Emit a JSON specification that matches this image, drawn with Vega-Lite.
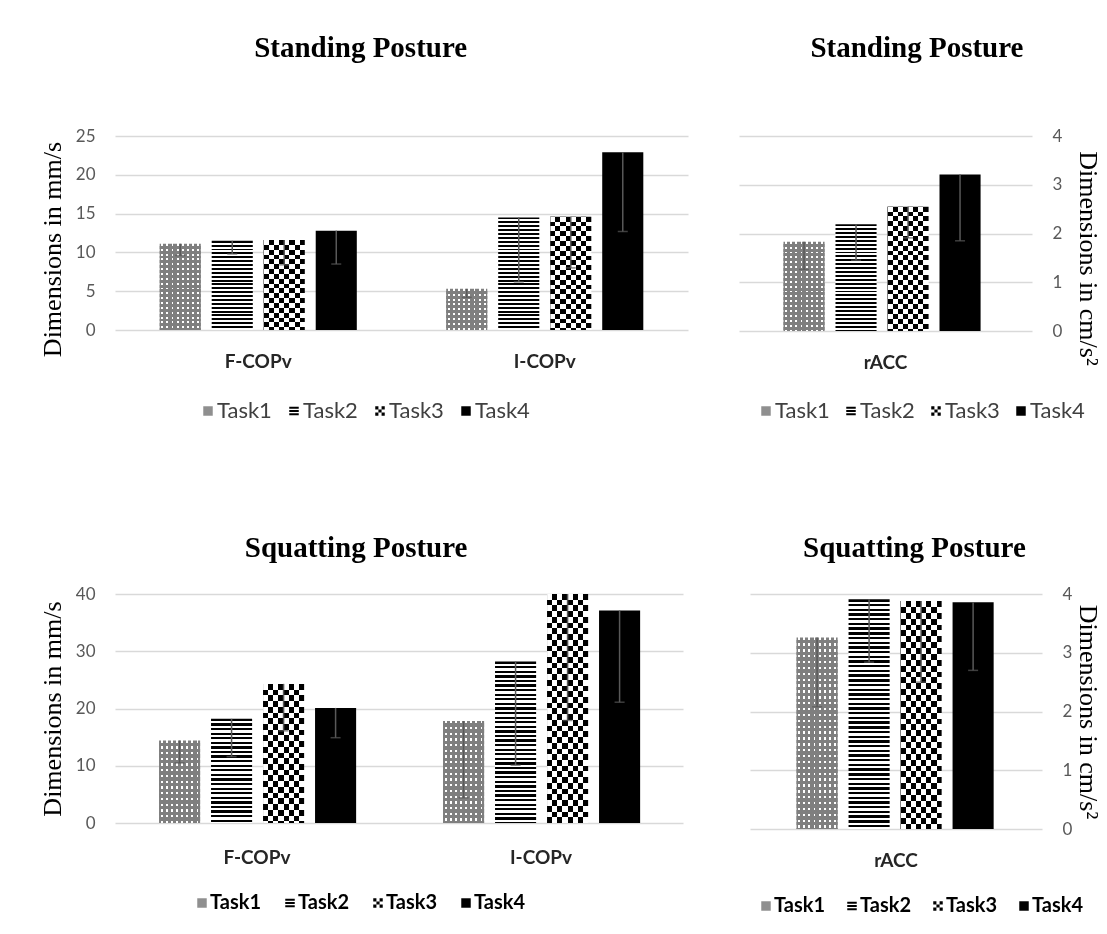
{
  "$schema": "https://vega.github.io/schema/vega-lite/v6.json",
  "background": "white",
  "padding": {"left": 39, "top": 34, "right": 8, "bottom": 0},
  "params": [
    {"name": "hs", "expr": "[{offset:0,color:'#000'},{offset:.01,color:'#000'},{offset:.01,color:'#fff'},{offset:.02,color:'#fff'},{offset:.02,color:'#000'},{offset:.03,color:'#000'},{offset:.03,color:'#fff'},{offset:.04,color:'#fff'},{offset:.04,color:'#000'},{offset:.05,color:'#000'},{offset:.05,color:'#fff'},{offset:.06,color:'#fff'},{offset:.06,color:'#000'},{offset:.07,color:'#000'},{offset:.07,color:'#fff'},{offset:.08,color:'#fff'},{offset:.08,color:'#000'},{offset:.09,color:'#000'},{offset:.09,color:'#fff'},{offset:.10,color:'#fff'},{offset:.10,color:'#000'},{offset:.11,color:'#000'},{offset:.11,color:'#fff'},{offset:.12,color:'#fff'},{offset:.12,color:'#000'},{offset:.13,color:'#000'},{offset:.13,color:'#fff'},{offset:.14,color:'#fff'},{offset:.14,color:'#000'},{offset:.15,color:'#000'},{offset:.15,color:'#fff'},{offset:.16,color:'#fff'},{offset:.16,color:'#000'},{offset:.17,color:'#000'},{offset:.17,color:'#fff'},{offset:.18,color:'#fff'},{offset:.18,color:'#000'},{offset:.19,color:'#000'},{offset:.19,color:'#fff'},{offset:.20,color:'#fff'},{offset:.20,color:'#000'},{offset:.21,color:'#000'},{offset:.21,color:'#fff'},{offset:.22,color:'#fff'},{offset:.22,color:'#000'},{offset:.23,color:'#000'},{offset:.23,color:'#fff'},{offset:.24,color:'#fff'},{offset:.24,color:'#000'},{offset:.25,color:'#000'},{offset:.25,color:'#fff'},{offset:.26,color:'#fff'},{offset:.26,color:'#000'},{offset:.27,color:'#000'},{offset:.27,color:'#fff'},{offset:.28,color:'#fff'},{offset:.28,color:'#000'},{offset:.29,color:'#000'},{offset:.29,color:'#fff'},{offset:.30,color:'#fff'},{offset:.30,color:'#000'},{offset:.31,color:'#000'},{offset:.31,color:'#fff'},{offset:.32,color:'#fff'},{offset:.32,color:'#000'},{offset:.33,color:'#000'},{offset:.33,color:'#fff'},{offset:.34,color:'#fff'},{offset:.34,color:'#000'},{offset:.35,color:'#000'},{offset:.35,color:'#fff'},{offset:.36,color:'#fff'},{offset:.36,color:'#000'},{offset:.37,color:'#000'},{offset:.37,color:'#fff'},{offset:.38,color:'#fff'},{offset:.38,color:'#000'},{offset:.39,color:'#000'},{offset:.39,color:'#fff'},{offset:.40,color:'#fff'},{offset:.40,color:'#000'},{offset:.41,color:'#000'},{offset:.41,color:'#fff'},{offset:.42,color:'#fff'},{offset:.42,color:'#000'},{offset:.43,color:'#000'},{offset:.43,color:'#fff'},{offset:.44,color:'#fff'},{offset:.44,color:'#000'},{offset:.45,color:'#000'},{offset:.45,color:'#fff'},{offset:.46,color:'#fff'},{offset:.46,color:'#000'},{offset:.47,color:'#000'},{offset:.47,color:'#fff'},{offset:.48,color:'#fff'},{offset:.48,color:'#000'},{offset:.49,color:'#000'},{offset:.49,color:'#fff'},{offset:.50,color:'#fff'},{offset:.50,color:'#000'},{offset:.51,color:'#000'},{offset:.51,color:'#fff'},{offset:.52,color:'#fff'},{offset:.52,color:'#000'},{offset:.53,color:'#000'},{offset:.53,color:'#fff'},{offset:.54,color:'#fff'},{offset:.54,color:'#000'},{offset:.55,color:'#000'},{offset:.55,color:'#fff'},{offset:.56,color:'#fff'},{offset:.56,color:'#000'},{offset:.57,color:'#000'},{offset:.57,color:'#fff'},{offset:.58,color:'#fff'},{offset:.58,color:'#000'},{offset:.59,color:'#000'},{offset:.59,color:'#fff'},{offset:.60,color:'#fff'},{offset:.60,color:'#000'},{offset:.61,color:'#000'},{offset:.61,color:'#fff'},{offset:.62,color:'#fff'},{offset:.62,color:'#000'},{offset:.63,color:'#000'},{offset:.63,color:'#fff'},{offset:.64,color:'#fff'},{offset:.64,color:'#000'},{offset:.65,color:'#000'},{offset:.65,color:'#fff'},{offset:.66,color:'#fff'},{offset:.66,color:'#000'},{offset:.67,color:'#000'},{offset:.67,color:'#fff'},{offset:.68,color:'#fff'},{offset:.68,color:'#000'},{offset:.69,color:'#000'},{offset:.69,color:'#fff'},{offset:.70,color:'#fff'},{offset:.70,color:'#000'},{offset:.71,color:'#000'},{offset:.71,color:'#fff'},{offset:.72,color:'#fff'},{offset:.72,color:'#000'},{offset:.73,color:'#000'},{offset:.73,color:'#fff'},{offset:.74,color:'#fff'},{offset:.74,color:'#000'},{offset:.75,color:'#000'},{offset:.75,color:'#fff'},{offset:.76,color:'#fff'},{offset:.76,color:'#000'},{offset:.77,color:'#000'},{offset:.77,color:'#fff'},{offset:.78,color:'#fff'},{offset:.78,color:'#000'},{offset:.79,color:'#000'},{offset:.79,color:'#fff'},{offset:.80,color:'#fff'},{offset:.80,color:'#000'},{offset:.81,color:'#000'},{offset:.81,color:'#fff'},{offset:.82,color:'#fff'},{offset:.82,color:'#000'},{offset:.83,color:'#000'},{offset:.83,color:'#fff'},{offset:.84,color:'#fff'},{offset:.84,color:'#000'},{offset:.85,color:'#000'},{offset:.85,color:'#fff'},{offset:.86,color:'#fff'},{offset:.86,color:'#000'},{offset:.87,color:'#000'},{offset:.87,color:'#fff'},{offset:.88,color:'#fff'},{offset:.88,color:'#000'},{offset:.89,color:'#000'},{offset:.89,color:'#fff'},{offset:.90,color:'#fff'},{offset:.90,color:'#000'},{offset:.91,color:'#000'},{offset:.91,color:'#fff'},{offset:.92,color:'#fff'},{offset:.92,color:'#000'},{offset:.93,color:'#000'},{offset:.93,color:'#fff'},{offset:.94,color:'#fff'},{offset:.94,color:'#000'},{offset:.95,color:'#000'},{offset:.95,color:'#fff'},{offset:.96,color:'#fff'},{offset:.96,color:'#000'},{offset:.97,color:'#000'},{offset:.97,color:'#fff'},{offset:.98,color:'#fff'},{offset:.98,color:'#000'},{offset:.99,color:'#000'},{offset:.99,color:'#fff'},{offset:1,color:'#fff'}]"},
    {"name": "cs", "expr": "[{offset:0,color:'#000'},{offset:.025,color:'#000'},{offset:.025,color:'#fff'},{offset:.05,color:'#fff'},{offset:.05,color:'#000'},{offset:.075,color:'#000'},{offset:.075,color:'#fff'},{offset:.1,color:'#fff'},{offset:.1,color:'#000'},{offset:.125,color:'#000'},{offset:.125,color:'#fff'},{offset:.15,color:'#fff'},{offset:.15,color:'#000'},{offset:.175,color:'#000'},{offset:.175,color:'#fff'},{offset:.2,color:'#fff'},{offset:.2,color:'#000'},{offset:.225,color:'#000'},{offset:.225,color:'#fff'},{offset:.25,color:'#fff'},{offset:.25,color:'#000'},{offset:.275,color:'#000'},{offset:.275,color:'#fff'},{offset:.3,color:'#fff'},{offset:.3,color:'#000'},{offset:.325,color:'#000'},{offset:.325,color:'#fff'},{offset:.35,color:'#fff'},{offset:.35,color:'#000'},{offset:.375,color:'#000'},{offset:.375,color:'#fff'},{offset:.4,color:'#fff'},{offset:.4,color:'#000'},{offset:.425,color:'#000'},{offset:.425,color:'#fff'},{offset:.45,color:'#fff'},{offset:.45,color:'#000'},{offset:.475,color:'#000'},{offset:.475,color:'#fff'},{offset:.5,color:'#fff'},{offset:.5,color:'#000'},{offset:.525,color:'#000'},{offset:.525,color:'#fff'},{offset:.55,color:'#fff'},{offset:.55,color:'#000'},{offset:.575,color:'#000'},{offset:.575,color:'#fff'},{offset:.6,color:'#fff'},{offset:.6,color:'#000'},{offset:.625,color:'#000'},{offset:.625,color:'#fff'},{offset:.65,color:'#fff'},{offset:.65,color:'#000'},{offset:.675,color:'#000'},{offset:.675,color:'#fff'},{offset:.7,color:'#fff'},{offset:.7,color:'#000'},{offset:.725,color:'#000'},{offset:.725,color:'#fff'},{offset:.75,color:'#fff'},{offset:.75,color:'#000'},{offset:.775,color:'#000'},{offset:.775,color:'#fff'},{offset:.8,color:'#fff'},{offset:.8,color:'#000'},{offset:.825,color:'#000'},{offset:.825,color:'#fff'},{offset:.85,color:'#fff'},{offset:.85,color:'#000'},{offset:.875,color:'#000'},{offset:.875,color:'#fff'},{offset:.9,color:'#fff'},{offset:.9,color:'#000'},{offset:.925,color:'#000'},{offset:.925,color:'#fff'},{offset:.95,color:'#fff'},{offset:.95,color:'#000'},{offset:.975,color:'#000'},{offset:.975,color:'#fff'},{offset:1,color:'#fff'}]"},
    {"name": "ds", "expr": "[{offset:0,color:'#fff'},{offset:.01,color:'#fff'},{offset:.01,color:'#7f7f7f'},{offset:.025,color:'#7f7f7f'},{offset:.025,color:'#fff'},{offset:.035,color:'#fff'},{offset:.035,color:'#7f7f7f'},{offset:.05,color:'#7f7f7f'},{offset:.05,color:'#fff'},{offset:.06,color:'#fff'},{offset:.06,color:'#7f7f7f'},{offset:.075,color:'#7f7f7f'},{offset:.075,color:'#fff'},{offset:.085,color:'#fff'},{offset:.085,color:'#7f7f7f'},{offset:.1,color:'#7f7f7f'},{offset:.1,color:'#fff'},{offset:.11,color:'#fff'},{offset:.11,color:'#7f7f7f'},{offset:.125,color:'#7f7f7f'},{offset:.125,color:'#fff'},{offset:.135,color:'#fff'},{offset:.135,color:'#7f7f7f'},{offset:.15,color:'#7f7f7f'},{offset:.15,color:'#fff'},{offset:.16,color:'#fff'},{offset:.16,color:'#7f7f7f'},{offset:.175,color:'#7f7f7f'},{offset:.175,color:'#fff'},{offset:.185,color:'#fff'},{offset:.185,color:'#7f7f7f'},{offset:.2,color:'#7f7f7f'},{offset:.2,color:'#fff'},{offset:.21,color:'#fff'},{offset:.21,color:'#7f7f7f'},{offset:.225,color:'#7f7f7f'},{offset:.225,color:'#fff'},{offset:.235,color:'#fff'},{offset:.235,color:'#7f7f7f'},{offset:.25,color:'#7f7f7f'},{offset:.25,color:'#fff'},{offset:.26,color:'#fff'},{offset:.26,color:'#7f7f7f'},{offset:.275,color:'#7f7f7f'},{offset:.275,color:'#fff'},{offset:.285,color:'#fff'},{offset:.285,color:'#7f7f7f'},{offset:.3,color:'#7f7f7f'},{offset:.3,color:'#fff'},{offset:.31,color:'#fff'},{offset:.31,color:'#7f7f7f'},{offset:.325,color:'#7f7f7f'},{offset:.325,color:'#fff'},{offset:.335,color:'#fff'},{offset:.335,color:'#7f7f7f'},{offset:.35,color:'#7f7f7f'},{offset:.35,color:'#fff'},{offset:.36,color:'#fff'},{offset:.36,color:'#7f7f7f'},{offset:.375,color:'#7f7f7f'},{offset:.375,color:'#fff'},{offset:.385,color:'#fff'},{offset:.385,color:'#7f7f7f'},{offset:.4,color:'#7f7f7f'},{offset:.4,color:'#fff'},{offset:.41,color:'#fff'},{offset:.41,color:'#7f7f7f'},{offset:.425,color:'#7f7f7f'},{offset:.425,color:'#fff'},{offset:.435,color:'#fff'},{offset:.435,color:'#7f7f7f'},{offset:.45,color:'#7f7f7f'},{offset:.45,color:'#fff'},{offset:.46,color:'#fff'},{offset:.46,color:'#7f7f7f'},{offset:.475,color:'#7f7f7f'},{offset:.475,color:'#fff'},{offset:.485,color:'#fff'},{offset:.485,color:'#7f7f7f'},{offset:.5,color:'#7f7f7f'},{offset:.5,color:'#fff'},{offset:.51,color:'#fff'},{offset:.51,color:'#7f7f7f'},{offset:.525,color:'#7f7f7f'},{offset:.525,color:'#fff'},{offset:.535,color:'#fff'},{offset:.535,color:'#7f7f7f'},{offset:.55,color:'#7f7f7f'},{offset:.55,color:'#fff'},{offset:.56,color:'#fff'},{offset:.56,color:'#7f7f7f'},{offset:.575,color:'#7f7f7f'},{offset:.575,color:'#fff'},{offset:.585,color:'#fff'},{offset:.585,color:'#7f7f7f'},{offset:.6,color:'#7f7f7f'},{offset:.6,color:'#fff'},{offset:.61,color:'#fff'},{offset:.61,color:'#7f7f7f'},{offset:.625,color:'#7f7f7f'},{offset:.625,color:'#fff'},{offset:.635,color:'#fff'},{offset:.635,color:'#7f7f7f'},{offset:.65,color:'#7f7f7f'},{offset:.65,color:'#fff'},{offset:.66,color:'#fff'},{offset:.66,color:'#7f7f7f'},{offset:.675,color:'#7f7f7f'},{offset:.675,color:'#fff'},{offset:.685,color:'#fff'},{offset:.685,color:'#7f7f7f'},{offset:.7,color:'#7f7f7f'},{offset:.7,color:'#fff'},{offset:.71,color:'#fff'},{offset:.71,color:'#7f7f7f'},{offset:.725,color:'#7f7f7f'},{offset:.725,color:'#fff'},{offset:.735,color:'#fff'},{offset:.735,color:'#7f7f7f'},{offset:.75,color:'#7f7f7f'},{offset:.75,color:'#fff'},{offset:.76,color:'#fff'},{offset:.76,color:'#7f7f7f'},{offset:.775,color:'#7f7f7f'},{offset:.775,color:'#fff'},{offset:.785,color:'#fff'},{offset:.785,color:'#7f7f7f'},{offset:.8,color:'#7f7f7f'},{offset:.8,color:'#fff'},{offset:.81,color:'#fff'},{offset:.81,color:'#7f7f7f'},{offset:.825,color:'#7f7f7f'},{offset:.825,color:'#fff'},{offset:.835,color:'#fff'},{offset:.835,color:'#7f7f7f'},{offset:.85,color:'#7f7f7f'},{offset:.85,color:'#fff'},{offset:.86,color:'#fff'},{offset:.86,color:'#7f7f7f'},{offset:.875,color:'#7f7f7f'},{offset:.875,color:'#fff'},{offset:.885,color:'#fff'},{offset:.885,color:'#7f7f7f'},{offset:.9,color:'#7f7f7f'},{offset:.9,color:'#fff'},{offset:.91,color:'#fff'},{offset:.91,color:'#7f7f7f'},{offset:.925,color:'#7f7f7f'},{offset:.925,color:'#fff'},{offset:.935,color:'#fff'},{offset:.935,color:'#7f7f7f'},{offset:.95,color:'#7f7f7f'},{offset:.95,color:'#fff'},{offset:.96,color:'#fff'},{offset:.96,color:'#7f7f7f'},{offset:.975,color:'#7f7f7f'},{offset:.975,color:'#fff'},{offset:.985,color:'#fff'},{offset:.985,color:'#7f7f7f'},{offset:1,color:'#7f7f7f'}]"},
    {"name": "vgrad", "expr": "{gradient:'linear',x1:0,y1:0,x2:1,y2:0,stops:[{offset:0,color:'#fff'},{offset:.125,color:'#fff'},{offset:.125,color:'#000'},{offset:.25,color:'#000'},{offset:.25,color:'#fff'},{offset:.375,color:'#fff'},{offset:.375,color:'#000'},{offset:.5,color:'#000'},{offset:.5,color:'#fff'},{offset:.625,color:'#fff'},{offset:.625,color:'#000'},{offset:.75,color:'#000'},{offset:.75,color:'#fff'},{offset:.875,color:'#fff'},{offset:.875,color:'#000'},{offset:1,color:'#000'}]}"},
    {"name": "tgrad", "expr": "{gradient:'linear',x1:0,y1:0,x2:1,y2:0,stops:[{offset:0,color:'#7f7f7f'},{offset:.04,color:'#7f7f7f'},{offset:.04,color:'#fff'},{offset:.085,color:'#fff'},{offset:.085,color:'#7f7f7f'},{offset:.165,color:'#7f7f7f'},{offset:.165,color:'#fff'},{offset:.21,color:'#fff'},{offset:.21,color:'#7f7f7f'},{offset:.29,color:'#7f7f7f'},{offset:.29,color:'#fff'},{offset:.335,color:'#fff'},{offset:.335,color:'#7f7f7f'},{offset:.415,color:'#7f7f7f'},{offset:.415,color:'#fff'},{offset:.46,color:'#fff'},{offset:.46,color:'#7f7f7f'},{offset:.54,color:'#7f7f7f'},{offset:.54,color:'#fff'},{offset:.585,color:'#fff'},{offset:.585,color:'#7f7f7f'},{offset:.665,color:'#7f7f7f'},{offset:.665,color:'#fff'},{offset:.71,color:'#fff'},{offset:.71,color:'#7f7f7f'},{offset:.79,color:'#7f7f7f'},{offset:.79,color:'#fff'},{offset:.835,color:'#fff'},{offset:.835,color:'#7f7f7f'},{offset:.915,color:'#7f7f7f'},{offset:.915,color:'#fff'},{offset:.96,color:'#fff'},{offset:.96,color:'#7f7f7f'},{offset:1,color:'#7f7f7f'}]}"},
    {"name": "legshape", "value": "M-1,-0.9h2v0.4h-2zM-1,-0.2h2v0.4h-2zM-1,0.5h2v0.4h-2z"},
    {"name": "legcheck", "value": "M-1,-1h0.667v0.667h-0.667zM0.333,-1h0.667v0.667h-0.667zM-0.333,-0.333h0.667v0.667h-0.667zM-1,0.333h0.667v0.667h-0.667zM0.333,0.333h0.667v0.667h-0.667z"}
  ],
  "datasets": {
    "d": [
      {"panel": "SL", "cat": "F-COPv", "task": "Task1", "value": 11.1, "low": 9.6},
      {"panel": "SL", "cat": "F-COPv", "task": "Task2", "value": 11.5, "low": 9.8},
      {"panel": "SL", "cat": "F-COPv", "task": "Task3", "value": 11.6, "low": 8.4},
      {"panel": "SL", "cat": "F-COPv", "task": "Task4", "value": 12.8, "low": 8.5},
      {"panel": "SL", "cat": "I-COPv", "task": "Task1", "value": 5.3, "low": 4.2},
      {"panel": "SL", "cat": "I-COPv", "task": "Task2", "value": 14.5, "low": 6.2},
      {"panel": "SL", "cat": "I-COPv", "task": "Task3", "value": 14.6, "low": 8.0},
      {"panel": "SL", "cat": "I-COPv", "task": "Task4", "value": 22.9, "low": 12.7},
      {"panel": "SR", "cat": "rACC", "task": "Task1", "value": 1.83, "low": 1.26},
      {"panel": "SR", "cat": "rACC", "task": "Task2", "value": 2.19, "low": 1.45},
      {"panel": "SR", "cat": "rACC", "task": "Task3", "value": 2.55, "low": 1.91},
      {"panel": "SR", "cat": "rACC", "task": "Task4", "value": 3.21, "low": 1.85},
      {"panel": "QL", "cat": "F-COPv", "task": "Task1", "value": 14.4, "low": 10.5},
      {"panel": "QL", "cat": "F-COPv", "task": "Task2", "value": 18.2, "low": 11.6},
      {"panel": "QL", "cat": "F-COPv", "task": "Task3", "value": 24.3, "low": 16.1},
      {"panel": "QL", "cat": "F-COPv", "task": "Task4", "value": 20.1, "low": 14.9},
      {"panel": "QL", "cat": "I-COPv", "task": "Task1", "value": 17.8, "low": 4.4},
      {"panel": "QL", "cat": "I-COPv", "task": "Task2", "value": 28.2, "low": 10.1},
      {"panel": "QL", "cat": "I-COPv", "task": "Task3", "value": 40.0, "low": 17.9},
      {"panel": "QL", "cat": "I-COPv", "task": "Task4", "value": 37.1, "low": 21.1},
      {"panel": "QR", "cat": "rACC", "task": "Task1", "value": 3.26, "low": 2.08},
      {"panel": "QR", "cat": "rACC", "task": "Task2", "value": 3.91, "low": 2.84},
      {"panel": "QR", "cat": "rACC", "task": "Task3", "value": 3.88, "low": 2.5},
      {"panel": "QR", "cat": "rACC", "task": "Task4", "value": 3.86, "low": 2.7}
    ]
  },
  "data": {"name": "d"},
  "config": {
    "view": {"stroke": null},
    "title": {"font": "Liberation Serif", "fontSize": 29, "fontWeight": "bold", "color": "#000", "frame": "bounds", "anchor": "middle"},
    "axis": {"domain": false, "ticks": false, "labelFont": "Lato", "labelColor": "#595959"},
    "axisX": {"grid": false, "labelAngle": 0, "labelFontSize": 19, "labelFontWeight": "bold", "labelColor": "#262626", "labelPadding": 22, "title": null},
    "axisY": {"grid": true, "gridColor": "#d9d9d9", "gridWidth": 1.5, "labelFontSize": 17, "labelPadding": 20, "titleFont": "Liberation Serif", "titleFontSize": 26, "titleFontWeight": "normal", "titleColor": "#000", "titlePadding": 10},
    "legend": {"orient": "none", "direction": "horizontal", "symbolType": "square", "symbolSize": 90, "symbolStrokeWidth": 0, "labelFont": "Lato", "labelFontSize": 20, "columnPadding": 18, "labelOffset": -2, "padding": 0}
  },
  "resolve": {"scale": {"fill": "independent"}, "legend": {"fill": "independent"}},
  "spacing": 112,
  "vconcat": [
    {
      "spacing": 51,
      "resolve": {"scale": {"fill": "independent"}, "legend": {"fill": "independent"}},
      "hconcat": [
        {
          "width": 573, "height": 194,
          "title": {"text": "Standing Posture", "offset": 64, "dx": -3},
          "transform": [{"filter": "datum.panel === 'SL'"}],
          "encoding": {
            "x": {"field": "cat", "type": "nominal", "scale": {"paddingInner": 0.312, "paddingOuter": 0.156}},
            "xOffset": {"field": "task", "type": "nominal", "scale": {"paddingInner": 0.21, "paddingOuter": 0}},
            "y": {"field": "value", "type": "quantitative", "stack": null, "scale": {"domain": [0, 25], "nice": false}, "axis": {"values": [0, 5, 10, 15, 20, 25], "title": "Dimensions in mm/s", "titleY": 113}}
          },
          "layer": [
            {"mark": {"type": "bar"}, "encoding": {"fill": {"field": "task", "type": "nominal", "scale": {"domain": ["Task1", "Task2", "Task3", "Task4"], "range": ["#8f8f8f", "#000000", "#000000", "#000000"]},
              "legend": {"title": null, "orient": "none", "legendX": 82, "legendY": 264, "labelColor": "#404040", "labelFontWeight": "normal", "labelFontSize": 22, "columnPadding": 11, "encode": {"symbols": {"update": {"shape": {"signal": "datum.value === 'Task2' ? legshape : datum.value === 'Task3' ? legcheck : 'square'"}}}}},
              "condition": [
                {"test": "datum.task === 'Task1'", "value": {"expr": "tgrad"}},
                {"test": "datum.task === 'Task2'", "value": {"expr": "{gradient:'linear',x1:0,y1:0,x2:0,y2:25/datum.value,stops:hs}"}},
                {"test": "datum.task === 'Task3'", "value": {"expr": "{gradient:'linear',x1:0,y1:0,x2:0,y2:25/datum.value,stops:cs}"}}
              ]}}},
            {"transform": [{"filter": "datum.task === 'Task3'"}], "mark": {"type": "bar", "blend": "difference"}, "encoding": {"fill": {"value": {"expr": "vgrad"}}}},
            {"transform": [{"filter": "datum.task === 'Task1'"}], "mark": {"type": "bar", "blend": "darken"}, "encoding": {"fill": {"value": {"expr": "{gradient:'linear',x1:0,y1:0,x2:0,y2:25/datum.value,stops:ds}"}}}},
            {"mark": {"type": "rule", "color": "#595959", "strokeWidth": 1.5}, "encoding": {"y2": {"field": "low"}}},
            {"mark": {"type": "tick", "color": "#595959", "thickness": 1.5, "size": 10, "orient": "horizontal"}, "encoding": {"y": {"field": "low", "type": "quantitative"}}}
          ]
        },
        {
          "width": 293, "height": 195,
          "title": {"text": "Standing Posture", "offset": 64, "dx": -3},
          "transform": [{"filter": "datum.panel === 'SR'"}],
          "encoding": {
            "x": {"field": "cat", "type": "nominal", "scale": {"paddingInner": 0, "paddingOuter": 0.218}},
            "xOffset": {"field": "task", "type": "nominal", "scale": {"paddingInner": 0.18, "paddingOuter": 0}},
            "y": {"field": "value", "type": "quantitative", "stack": null, "scale": {"domain": [0, 4], "nice": false}, "axis": {"orient": "right", "values": [0, 1, 2, 3, 4], "title": "Dimensions in cm/s²", "titlePadding": 13, "titleY": 122}}
          },
          "layer": [
            {"mark": {"type": "bar"}, "encoding": {"fill": {"field": "task", "type": "nominal", "scale": {"domain": ["Task1", "Task2", "Task3", "Task4"], "range": ["#8f8f8f", "#000000", "#000000", "#000000"]},
              "legend": {"title": null, "orient": "none", "legendX": 16, "legendY": 264, "labelColor": "#404040", "labelFontWeight": "normal", "labelFontSize": 22, "columnPadding": 10, "encode": {"symbols": {"update": {"shape": {"signal": "datum.value === 'Task2' ? legshape : datum.value === 'Task3' ? legcheck : 'square'"}}}}},
              "condition": [
                {"test": "datum.task === 'Task1'", "value": {"expr": "tgrad"}},
                {"test": "datum.task === 'Task2'", "value": {"expr": "{gradient:'linear',x1:0,y1:0,x2:0,y2:4/datum.value,stops:hs}"}},
                {"test": "datum.task === 'Task3'", "value": {"expr": "{gradient:'linear',x1:0,y1:0,x2:0,y2:4/datum.value,stops:cs}"}}
              ]}}},
            {"transform": [{"filter": "datum.task === 'Task3'"}], "mark": {"type": "bar", "blend": "difference"}, "encoding": {"fill": {"value": {"expr": "vgrad"}}}},
            {"transform": [{"filter": "datum.task === 'Task1'"}], "mark": {"type": "bar", "blend": "darken"}, "encoding": {"fill": {"value": {"expr": "{gradient:'linear',x1:0,y1:0,x2:0,y2:4/datum.value,stops:ds}"}}}},
            {"mark": {"type": "rule", "color": "#595959", "strokeWidth": 1.5}, "encoding": {"y2": {"field": "low"}}},
            {"mark": {"type": "tick", "color": "#595959", "thickness": 1.5, "size": 10, "orient": "horizontal"}, "encoding": {"y": {"field": "low", "type": "quantitative"}}}
          ]
        }
      ]
    },
    {
      "spacing": 67,
      "resolve": {"scale": {"fill": "independent"}, "legend": {"fill": "independent"}},
      "hconcat": [
        {
          "width": 568, "height": 229,
          "title": {"text": "Squatting Posture", "offset": 22, "dx": -5},
          "transform": [{"filter": "datum.panel === 'QL'"}],
          "encoding": {
            "x": {"field": "cat", "type": "nominal", "scale": {"paddingInner": 0.31, "paddingOuter": 0.155}, "axis": {"labelPadding": 25}},
            "xOffset": {"field": "task", "type": "nominal", "scale": {"paddingInner": 0.207, "paddingOuter": 0}},
            "y": {"field": "value", "type": "quantitative", "stack": null, "scale": {"domain": [0, 40], "nice": false}, "axis": {"values": [0, 10, 20, 30, 40], "title": "Dimensions in mm/s"}}
          },
          "layer": [
            {"mark": {"type": "bar"}, "encoding": {"fill": {"field": "task", "type": "nominal", "scale": {"domain": ["Task1", "Task2", "Task3", "Task4"], "range": ["#8f8f8f", "#000000", "#000000", "#000000"]},
              "legend": {"title": null, "orient": "none", "legendX": 77, "legendY": 299, "labelColor": "#000000", "labelFontWeight": "bold", "encode": {"symbols": {"update": {"shape": {"signal": "datum.value === 'Task2' ? legshape : datum.value === 'Task3' ? legcheck : 'square'"}}}}},
              "condition": [
                {"test": "datum.task === 'Task1'", "value": {"expr": "tgrad"}},
                {"test": "datum.task === 'Task2'", "value": {"expr": "{gradient:'linear',x1:0,y1:0,x2:0,y2:40/datum.value,stops:hs}"}},
                {"test": "datum.task === 'Task3'", "value": {"expr": "{gradient:'linear',x1:0,y1:0,x2:0,y2:40/datum.value,stops:cs}"}}
              ]}}},
            {"transform": [{"filter": "datum.task === 'Task3'"}], "mark": {"type": "bar", "blend": "difference"}, "encoding": {"fill": {"value": {"expr": "vgrad"}}}},
            {"transform": [{"filter": "datum.task === 'Task1'"}], "mark": {"type": "bar", "blend": "darken"}, "encoding": {"fill": {"value": {"expr": "{gradient:'linear',x1:0,y1:0,x2:0,y2:40/datum.value,stops:ds}"}}}},
            {"mark": {"type": "rule", "color": "#595959", "strokeWidth": 1.5}, "encoding": {"y2": {"field": "low"}}},
            {"mark": {"type": "tick", "color": "#595959", "thickness": 1.5, "size": 10, "orient": "horizontal"}, "encoding": {"y": {"field": "low", "type": "quantitative"}}}
          ]
        },
        {
          "width": 292, "height": 235,
          "title": {"text": "Squatting Posture", "offset": 22, "dx": -11},
          "transform": [{"filter": "datum.panel === 'QR'"}],
          "encoding": {
            "x": {"field": "cat", "type": "nominal", "scale": {"paddingInner": 0, "paddingOuter": 0.234}},
            "xOffset": {"field": "task", "type": "nominal", "scale": {"paddingInner": 0.22, "paddingOuter": 0}},
            "y": {"field": "value", "type": "quantitative", "stack": null, "scale": {"domain": [0, 4], "nice": false}, "axis": {"orient": "right", "values": [0, 1, 2, 3, 4], "title": "Dimensions in cm/s²", "titlePadding": 3}}
          },
          "layer": [
            {"mark": {"type": "bar"}, "encoding": {"fill": {"field": "task", "type": "nominal", "scale": {"domain": ["Task1", "Task2", "Task3", "Task4"], "range": ["#8f8f8f", "#000000", "#000000", "#000000"]},
              "legend": {"title": null, "orient": "none", "legendX": 6, "legendY": 302, "labelColor": "#000000", "labelFontWeight": "bold", "columnPadding": 16, "encode": {"symbols": {"update": {"shape": {"signal": "datum.value === 'Task2' ? legshape : datum.value === 'Task3' ? legcheck : 'square'"}}}}},
              "condition": [
                {"test": "datum.task === 'Task1'", "value": {"expr": "tgrad"}},
                {"test": "datum.task === 'Task2'", "value": {"expr": "{gradient:'linear',x1:0,y1:0,x2:0,y2:4/datum.value,stops:hs}"}},
                {"test": "datum.task === 'Task3'", "value": {"expr": "{gradient:'linear',x1:0,y1:0,x2:0,y2:4/datum.value,stops:cs}"}}
              ]}}},
            {"transform": [{"filter": "datum.task === 'Task3'"}], "mark": {"type": "bar", "blend": "difference"}, "encoding": {"fill": {"value": {"expr": "vgrad"}}}},
            {"transform": [{"filter": "datum.task === 'Task1'"}], "mark": {"type": "bar", "blend": "darken"}, "encoding": {"fill": {"value": {"expr": "{gradient:'linear',x1:0,y1:0,x2:0,y2:4/datum.value,stops:ds}"}}}},
            {"mark": {"type": "rule", "color": "#595959", "strokeWidth": 1.5}, "encoding": {"y2": {"field": "low"}}},
            {"mark": {"type": "tick", "color": "#595959", "thickness": 1.5, "size": 10, "orient": "horizontal"}, "encoding": {"y": {"field": "low", "type": "quantitative"}}}
          ]
        }
      ]
    }
  ]
}
